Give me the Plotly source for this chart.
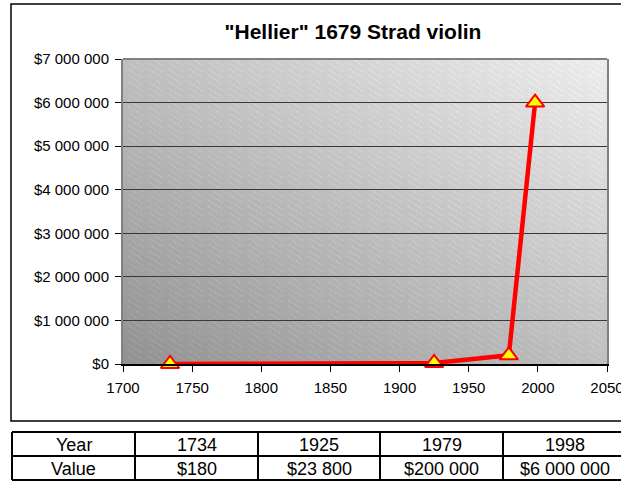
import base64
import struct
import zlib

import plotly.graph_objects as go

# data
years = [1734, 1925, 1979, 1998]
values = [180, 23800, 200000, 6000000]
y_ticks = [0, 1000000, 2000000, 3000000, 4000000, 5000000, 6000000, 7000000]

W, H = 621, 481
# plot area in pixels
L, R, T, B = 123, 607, 59, 364
FONT = "Liberation Sans, Arial, sans-serif"


def money(v):
    return "$" + f"{v:,}".replace(",", " ")


def px(x):
    return (x - L) / (R - L)


def py(y):
    return (B - y) / (B - T)


def gradient_png(w, h, c0=146, c1=237):
    # grey diagonal gradient (dark bottom-left -> light top-right) with faint hatching
    rows = []
    for j in range(h):
        row = bytearray()
        for i in range(w):
            t = (i / (w - 1) + (1 - j / (h - 1))) / 2
            v = c0 + (c1 - c0) * t
            if (i - int(1.6 * j)) % 10 == 0 and (i // 5) % 4 != 0:
                v += 18
            row.append(min(255, int(v)))
        rows.append(b"\x00" + bytes(row))
    raw = b"".join(rows)

    def chunk(tag, data):
        c = tag + data
        return struct.pack(">I", len(data)) + c + struct.pack(">I", zlib.crc32(c) & 0xFFFFFFFF)

    png = b"\x89PNG\r\n\x1a\n"
    png += chunk(b"IHDR", struct.pack(">IIBBBBB", w, h, 8, 0, 0, 0, 0))
    png += chunk(b"IDAT", zlib.compress(raw, 9))
    png += chunk(b"IEND", b"")
    return "data:image/png;base64," + base64.b64encode(png).decode()


fig = go.Figure()
fig.add_trace(go.Scatter(
    x=years, y=values,
    mode="lines+markers",
    line=dict(color="#ff0000", width=4.5),
    marker=dict(symbol="triangle-up", size=16, color="#ffff00",
                line=dict(color="#ff0000", width=2)),
    cliponaxis=False,
    showlegend=False,
))

shapes = [
    # chart area frame (runs off the right edge like the original)
    dict(type="rect", xref="paper", yref="paper", x0=px(11), x1=px(700), y0=py(421), y1=py(4),
         line=dict(color="black", width=1.5), layer="below"),
    # plot area top border
    dict(type="line", xref="paper", yref="paper", x0=0, x1=1, y0=1, y1=1,
         line=dict(color="#808080", width=2)),
]

# table under the chart
col_edges = [12, 135, 258, 380, 503, 626]
row_edges = [432, 456, 480]
for y in row_edges:
    shapes.append(dict(type="line", xref="paper", yref="paper", x0=px(col_edges[0]), x1=px(700),
                       y0=py(y), y1=py(y), line=dict(color="black", width=2)))
for x in col_edges:
    shapes.append(dict(type="line", xref="paper", yref="paper", x0=px(x), x1=px(x),
                       y0=py(row_edges[0]), y1=py(row_edges[-1]), line=dict(color="black", width=2)))

rows = [["Year"] + [str(y) for y in years], ["Value"] + [money(v) for v in values]]
annotations = []
for r, row in enumerate(rows):
    yc = (row_edges[r] + row_edges[r + 1]) / 2 + 0.5
    for c, txt in enumerate(row):
        xc = (col_edges[c] + col_edges[c + 1]) / 2
        annotations.append(dict(text=txt, xref="paper", yref="paper", x=px(xc), y=py(yc),
                                xanchor="center", yanchor="middle", showarrow=False,
                                font=dict(family=FONT, size=18, color="black")))

fig.update_layout(
    width=W, height=H,
    margin=dict(l=L, r=W - R, t=T, b=H - B, pad=0, autoexpand=False),
    paper_bgcolor="white",
    plot_bgcolor="rgba(0,0,0,0)",
    font=dict(family=FONT, size=15, color="black"),
    title=dict(text='"Hellier" 1679 Strad violin', xref="container", yref="container",
               x=353 / W, y=1 - 32 / H, xanchor="center", yanchor="middle",
               font=dict(family=FONT, size=21, color="black", weight="bold")),
    images=[dict(source=gradient_png(R - L, B - T), xref="paper", yref="paper",
                 x=0, y=1, sizex=1, sizey=1, xanchor="left", yanchor="top",
                 sizing="stretch", layer="below")],
    shapes=shapes,
    annotations=annotations,
    xaxis=dict(range=[1700, 2050], dtick=50, tick0=1700, tickformat="d",
               showgrid=False, zeroline=False, automargin=False,
               showline=True, linecolor="black", linewidth=1.5,
               ticks="outside", ticklen=6, tickcolor="black", tickwidth=1,
               ticklabelstandoff=3, ticklabeloverflow="allow",
               tickfont=dict(size=15)),
    yaxis=dict(range=[0, 7000000], tickvals=y_ticks, ticktext=[money(v) for v in y_ticks],
               showgrid=True, gridcolor="#383838", gridwidth=1, zeroline=False, automargin=False,
               showline=True, linecolor="#808080", linewidth=2, mirror=True,
               ticks="outside", ticklen=6, tickcolor="black", tickwidth=1,
               ticklabelstandoff=3,
               tickfont=dict(size=15)),
)

# page has a default 8px body margin; drop it so the figure sits at the window's corner
fig.write_html("out.html", config={"displayModeBar": False},
               post_script="document.body.style.margin='0';document.body.style.overflow='hidden';")
